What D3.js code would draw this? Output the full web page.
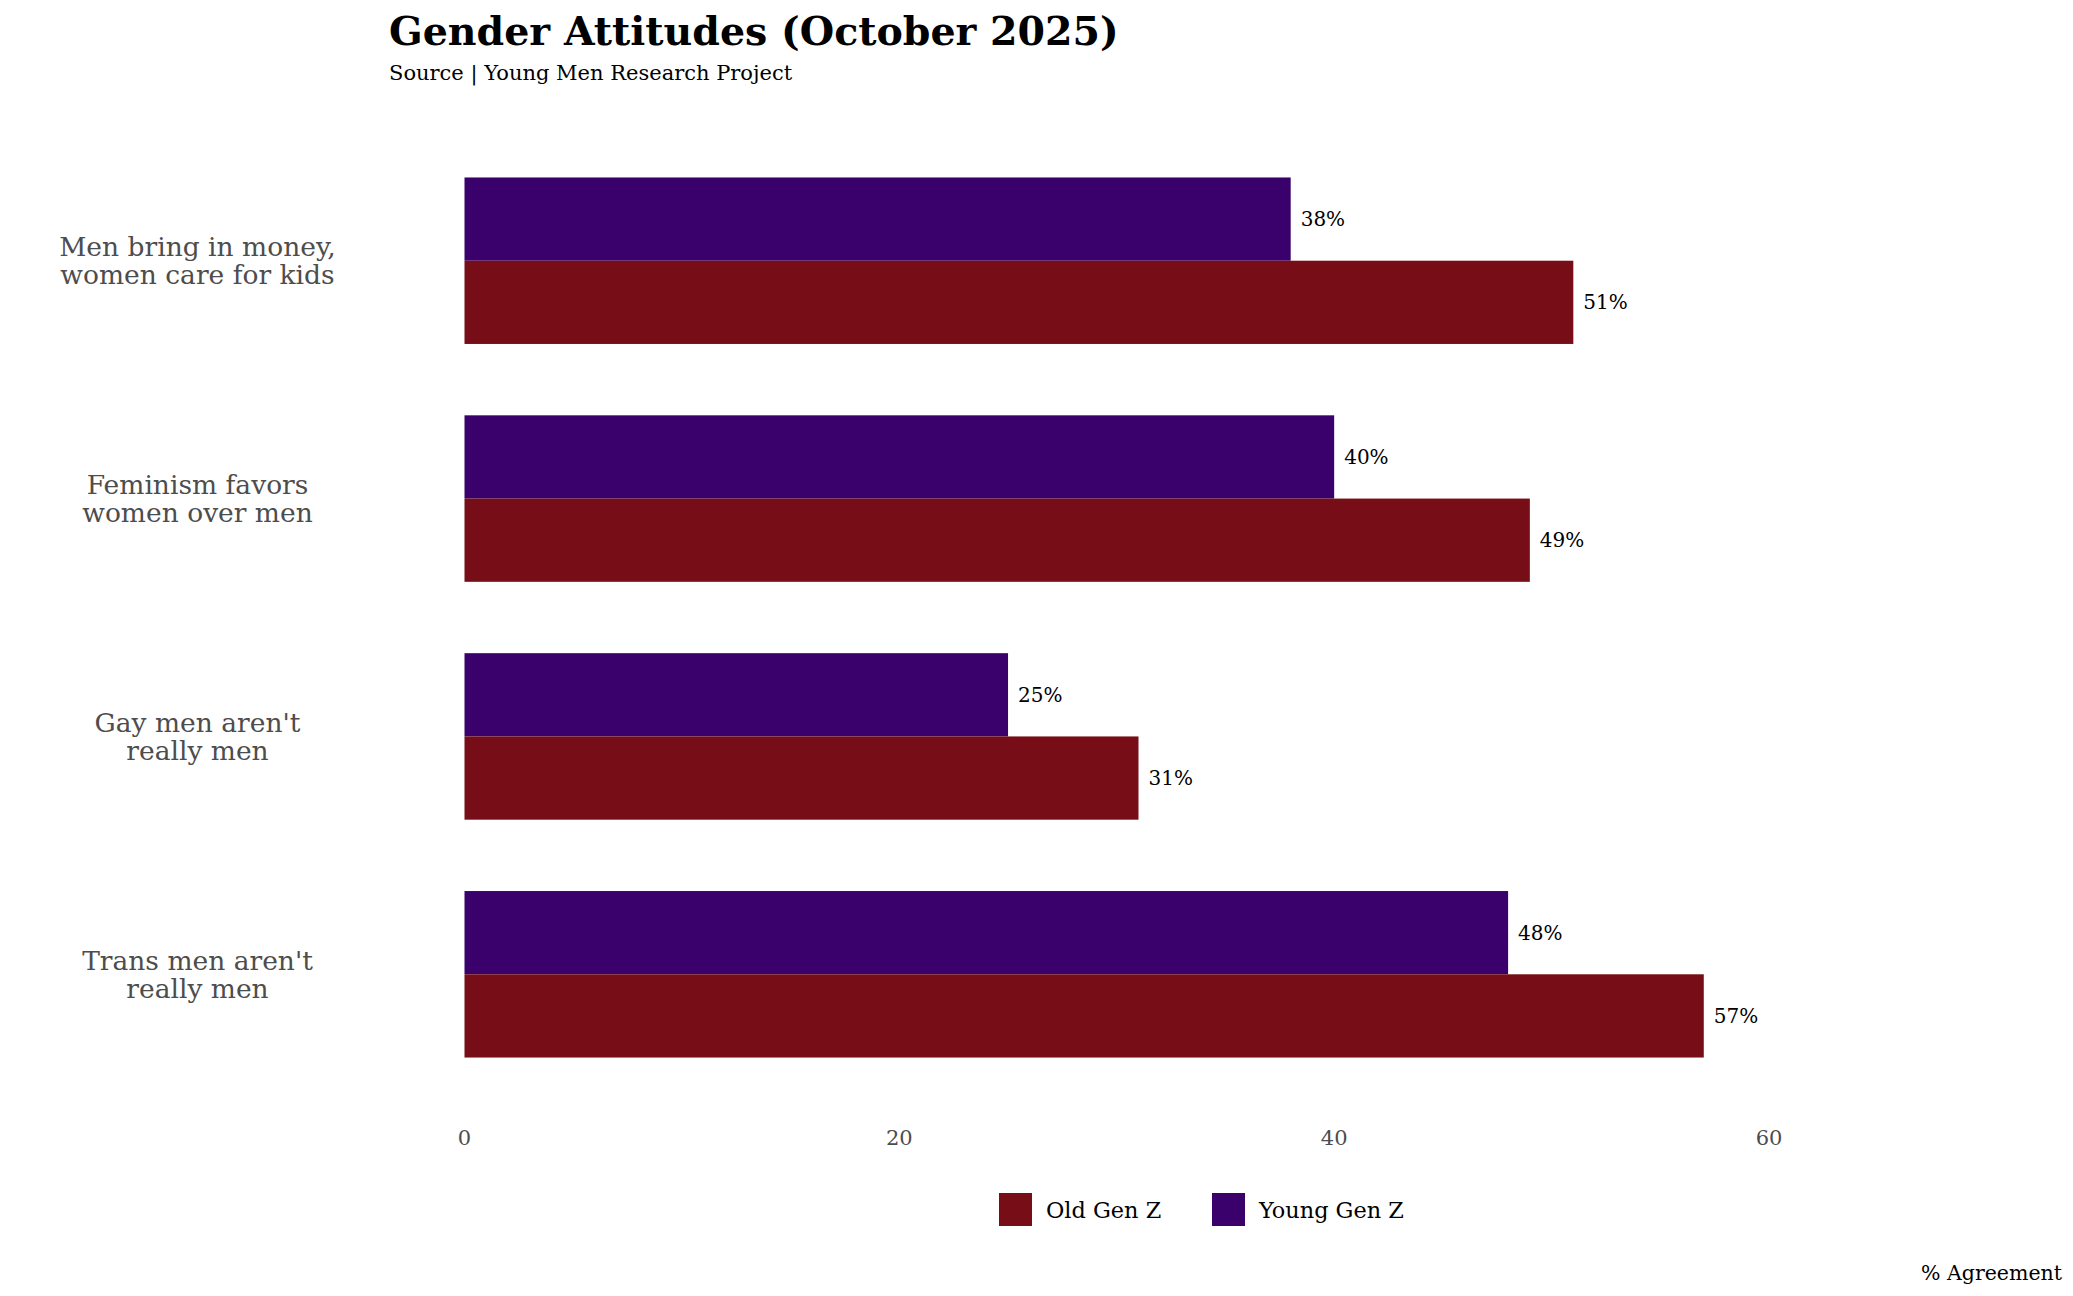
<!DOCTYPE html>
<html>
<head>
<meta charset="utf-8">
<script src="https://cdn.jsdelivr.net/npm/d3@7"></script>
<style>
  body { margin: 0; background: #fff; }
  text { font-family: "DejaVu Serif", serif; }
</style>
</head>
<body>
<div class="chart"></div>
<script>
// data
const statements = [
   ["Men bring in money,", "women care for kids"],
   ["Feminism favors", "women over men"],
   ["Gay men aren't", "really men"],
   ["Trans men aren't", "really men"]
];
const groups = ["Young Gen Z", "Old Gen Z"];
const youngGenZ = [38, 40, 25, 48];
const oldGenZ = [51, 49, 31, 57];
const xTicks = [0, 20, 40, 60];

// setup chart
const width = 2073;
const height = 1296;
const svg = d3.select(".chart").append("svg").attr("width", width).attr("height", height);

const colors = d3.scaleOrdinal().domain(groups).range(["#3a006c", "#770e17"]);

const x = d3.scaleLinear().domain([0, 60]).range([464.5, 1769]);
const y = d3.scaleBand()
   .domain(statements.map((d) => d.join(" ")))
   .range([118, 1117])
   .paddingInner(0.3)
   .paddingOuter(0.25);
const sub = d3.scaleBand().domain(groups).range([0, y.bandwidth()]);

const rows = statements.map((s, i) => ({
   key: s.join(" "),
   lines: s,
   values: [
      { group: "Young Gen Z", value: youngGenZ[i] },
      { group: "Old Gen Z", value: oldGenZ[i] }
   ]
}));

// title
svg.append("text").attr("x", 389).attr("y", 45)
   .style("font-size", "39.5px").style("font-weight", "bold").attr("fill", "#000")
   .text("Gender Attitudes (October 2025)");
svg.append("text").attr("x", 389).attr("y", 80)
   .style("font-size", "21px").attr("fill", "#000")
   .text("Source | Young Men Research Project");

// bars
const row = svg.selectAll("g.row").data(rows).enter().append("g")
   .attr("class", "row")
   .attr("transform", (d) => `translate(0,${y(d.key)})`);

row.selectAll("rect").data((d) => d.values).enter().append("rect")
   .attr("x", x(0))
   .attr("y", (d) => sub(d.group))
   .attr("width", (d) => x(d.value) - x(0))
   .attr("height", sub.bandwidth())
   .attr("fill", (d) => colors(d.group));

row.selectAll("text.value").data((d) => d.values).enter().append("text")
   .attr("class", "value")
   .attr("x", (d) => x(d.value) + 10)
   .attr("y", (d) => sub(d.group) + sub.bandwidth() / 2)
   .attr("dy", "0.35em")
   .style("font-size", "20px")
   .attr("fill", "#000")
   .text((d) => d.value + "%");

// category labels
row.append("text")
   .attr("text-anchor", "middle")
   .style("font-size", "26.5px")
   .attr("fill", "#4d4d4d")
   .selectAll("tspan").data((d) => d.lines).enter().append("tspan")
   .attr("x", 197.5)
   .attr("y", (d, i) => y.bandwidth() / 2 - 14 + i * 28)
   .attr("dy", "0.35em")
   .text((d) => d);

// x axis labels
svg.append("g").selectAll("text").data(xTicks).enter().append("text")
   .attr("x", (d) => x(d))
   .attr("y", 1138)
   .attr("dy", "0.35em")
   .attr("text-anchor", "middle")
   .style("font-size", "21px")
   .attr("fill", "#4d4d4d")
   .text((d) => d);

svg.append("text").attr("x", 2062).attr("y", 1280)
   .attr("text-anchor", "end")
   .style("font-size", "20.5px").attr("fill", "#000")
   .text("% Agreement");

// legend
const legendItems = ["Old Gen Z", "Young Gen Z"];
const legendX = [999, 1212];
const legend = svg.selectAll("g.legend").data(legendItems).enter().append("g")
   .attr("class", "legend")
   .attr("transform", (d, i) => `translate(${legendX[i]},1193)`);
legend.append("rect").attr("width", 33).attr("height", 33).attr("fill", (d) => colors(d));
legend.append("text").attr("x", 47).attr("y", 17).attr("dy", "0.35em")
   .style("font-size", "22.4px").attr("fill", "#000")
   .text((d) => d);
</script>
</body>
</html>
